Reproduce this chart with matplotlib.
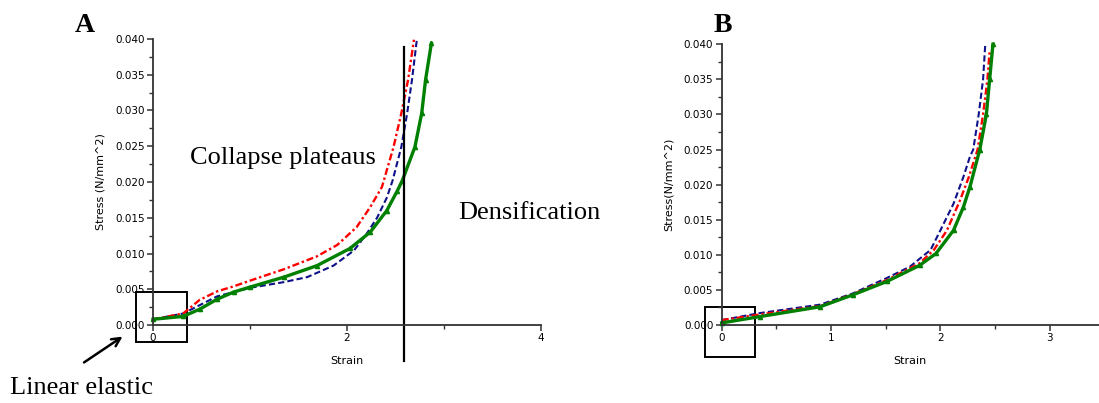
import matplotlib
matplotlib.use("Agg")
import matplotlib.pyplot as plt
from matplotlib.patches import Rectangle
from matplotlib.ticker import MultipleLocator, FormatStrFormatter

# ---- panel A : strain / stress readings
a_red_x = [0, 0.31, 0.48, 0.66, 0.83, 1.0, 1.35, 1.69, 1.90, 2.10, 2.24, 2.36, 2.48, 2.56, 2.63, 2.69]
a_red_y = [0.0008, 0.0016, 0.0035, 0.0047, 0.0054, 0.0062, 0.0078, 0.0096, 0.0112, 0.0137, 0.0165, 0.0193, 0.0249, 0.0296, 0.0343, 0.0399]
a_blue_x = [0, 0.31, 0.66, 1.0, 1.35, 1.59, 1.86, 2.07, 2.20, 2.31, 2.41, 2.47, 2.56, 2.62, 2.67, 2.72]
a_blue_y = [0.0008, 0.0016, 0.0040, 0.0052, 0.0060, 0.0067, 0.0083, 0.0104, 0.0127, 0.0150, 0.0178, 0.0202, 0.0249, 0.0296, 0.0343, 0.0399]
a_green_x = [0, 0.31, 0.48, 0.66, 0.83, 1.0, 1.35, 1.69, 2.03, 2.24, 2.41, 2.52, 2.57, 2.70, 2.77, 2.81, 2.87]
a_green_y = [0.0008, 0.0012, 0.0022, 0.0036, 0.0046, 0.0053, 0.0067, 0.0083, 0.0107, 0.0130, 0.0160, 0.0188, 0.0202, 0.0249, 0.0296, 0.0343, 0.0394]

# ---- panel B
b_blue_x = [0, 0.35, 0.9, 1.2, 1.51, 1.72, 1.91, 2.0, 2.12, 2.21, 2.27, 2.30, 2.35, 2.39, 2.41]
b_blue_y = [0.0007, 0.0017, 0.0029, 0.0045, 0.0067, 0.0083, 0.0107, 0.0135, 0.0173, 0.0211, 0.024, 0.025, 0.030, 0.035, 0.040]
b_red_x = [0, 0.35, 0.9, 1.2, 1.51, 1.81, 1.94, 2.06, 2.18, 2.26, 2.34, 2.39, 2.43, 2.45]
b_red_y = [0.0007, 0.0015, 0.0027, 0.0044, 0.0064, 0.0088, 0.0107, 0.0135, 0.0178, 0.0211, 0.025, 0.030, 0.035, 0.039]
b_green_x = [0, 0.35, 0.9, 1.2, 1.51, 1.81, 1.96, 2.12, 2.21, 2.27, 2.36, 2.42, 2.45, 2.48]
b_green_y = [0.0003, 0.0012, 0.0026, 0.0043, 0.0062, 0.0085, 0.0102, 0.0135, 0.0168, 0.0197, 0.025, 0.030, 0.035, 0.040]

densification_strain = 2.59

fig = plt.figure(figsize=(10.99, 4.03), dpi=100)
axA = fig.add_axes([153/1099, 1-325/403, 388/1099, 286/403])
axB = fig.add_axes([721.7/1099, 1-325/403, 377.3/1099, 280.7/403])

def style(ax, xmax, xmajor, ylab):
    ax.set_xlim(0, xmax)
    ax.set_ylim(0, 0.040)
    for s in ['top', 'right']:
        ax.spines[s].set_visible(False)
    for s in ['left', 'bottom']:
        ax.spines[s].set_linewidth(1.3)
        ax.spines[s].set_color('#333333')
    ax.xaxis.set_major_locator(MultipleLocator(xmajor))
    ax.xaxis.set_minor_locator(MultipleLocator(xmajor/2))
    ax.yaxis.set_major_locator(MultipleLocator(0.005))
    ax.yaxis.set_minor_locator(MultipleLocator(0.0025))
    ax.yaxis.set_major_formatter(FormatStrFormatter('%.3f'))
    ax.tick_params(which='major', length=4, width=1.1, color='#333333', labelsize=7.5, pad=2)
    ax.tick_params(which='minor', length=3, width=1.0, color='#333333')
    ax.set_xlabel('Strain', fontsize=8, labelpad=9)
    ax.set_ylabel(ylab, fontsize=8, labelpad=7)

style(axA, 4, 2, 'Stress (N/mm^2)')
style(axB, 3.45, 1, 'Stress(N/mm^2)')

def curves(ax, rx, ry, bx, by, gx, gy):
    ax.plot(bx, by, color='#10108a', lw=1.5, ls=(0, (3, 1.5)), clip_on=False)
    ax.plot(rx, ry, color='#ff0000', lw=1.7, ls=(0, (3, 1.2, 1, 1.2)), clip_on=False)
    ax.plot(gx, gy, color='#008000', lw=2.4, marker='^', ms=3, clip_on=False)

curves(axA, a_red_x, a_red_y, a_blue_x, a_blue_y, a_green_x, a_green_y)
curves(axB, b_red_x, b_red_y, b_blue_x, b_blue_y, b_green_x, b_green_y)

# densification line and boxes
axA.plot([densification_strain, densification_strain], [0.0389, -0.0051], color='black', lw=1.6, clip_on=False)
axA.add_patch(Rectangle((-0.175, -0.00242), 0.522, 0.00708, fill=False, lw=1.4, ec='black', clip_on=False))
axB.add_patch(Rectangle((-0.153, -0.00459), 0.46, 0.00711, fill=False, lw=1.4, ec='black', clip_on=False))

axA.annotate('', xy=(-0.29, -0.0014), xytext=(-0.735, -0.00545),
             arrowprops=dict(arrowstyle='->', lw=1.8, color='black', mutation_scale=15),
             annotation_clip=False)

serif = 'Liberation Serif'
fig.text(190/1099, 1-158/403, 'Collapse plateaus', family=serif, fontsize=19, va='center')
fig.text(458/1099, 1-213/403, 'Densification', family=serif, fontsize=19, va='center')
fig.text(10/1099, 1-388/403, 'Linear elastic', family=serif, fontsize=19, va='center')
fig.text(75/1099, 1-25/403, 'A', family=serif, fontsize=20, weight='bold', va='center')
fig.text(714/1099, 1-25/403, 'B', family=serif, fontsize=20, weight='bold', va='center')

fig.savefig('out.png', dpi=100)
